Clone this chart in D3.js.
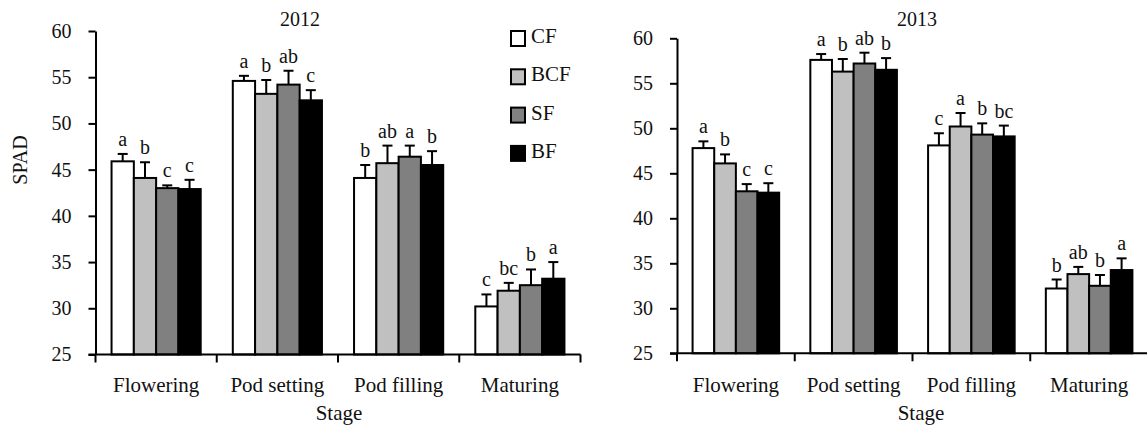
<!DOCTYPE html>
<html>
<head>
<meta charset="utf-8">
<script src="https://cdn.jsdelivr.net/npm/d3@7"></script>
<style>
  html, body { margin: 0; padding: 0; background: #fff; }
  svg { display: block; }
  svg text { font-family: "Liberation Serif", "Times New Roman", serif !important; }
</style>
</head>
<body>
<svg id="chart" width="1147" height="428"></svg>
<script>
// ---- data ----
const stages = ["Flowering", "Pod setting", "Pod filling", "Maturing"];
const treatments = ["CF", "BCF", "SF", "BF"];
const treatmentColors = ["#ffffff", "#c0c0c0", "#808080", "#000000"];
const yTicks = [25, 30, 35, 40, 45, 50, 55, 60];

const mean2012 = [
  [45.9, 44.1, 43.0, 42.9],
  [54.6, 53.2, 54.2, 52.5],
  [44.1, 45.7, 46.4, 45.5],
  [30.2, 31.9, 32.5, 33.2]
];
const err2012 = [
  [0.8, 1.7, 0.3, 1.0],
  [0.55, 1.5, 1.5, 1.1],
  [1.4, 1.9, 1.2, 1.5],
  [1.3, 0.85, 1.7, 1.8]
];
const sig2012 = [
  ["a", "b", "c", "c"],
  ["a", "b", "ab", "c"],
  ["b", "ab", "a", "b"],
  ["c", "bc", "b", "a"]
];

const mean2013 = [
  [47.8, 46.1, 43.0, 42.85],
  [57.6, 56.3, 57.2, 56.5],
  [48.1, 50.2, 49.3, 49.1],
  [32.2, 33.8, 32.5, 34.25]
];
const err2013 = [
  [0.75, 1.0, 0.8, 1.05],
  [0.65, 1.4, 1.2, 1.3],
  [1.35, 1.5, 1.25, 1.2],
  [1.0, 0.8, 1.2, 1.3]
];
const sig2013 = [
  ["a", "b", "c", "c"],
  ["a", "b", "ab", "b"],
  ["c", "a", "b", "bc"],
  ["b", "ab", "b", "a"]
];

// ---- drawing ----
const FONT = "'Liberation Serif', 'Times New Roman', serif";
const svg = d3.select("#chart");

function drawPanel(opts) {
  const { x0, x1, yTop, yBot, means, errs, sigs, title, titleX, stageX, yLabel } = opts;
  const g = svg.append("g").style("font-family", FONT);

  const x = d3.scaleBand().domain(stages).range([x0, x1]).paddingInner(0).paddingOuter(0);
  const xi = d3.scaleBand().domain(treatments).range([0, x.bandwidth()]).paddingInner(0).paddingOuter(0.72);
  const y = d3.scaleLinear().domain([25, 60]).range([yBot, yTop]);

  // bars
  stages.forEach((s, si) => {
    treatments.forEach((t, ti) => {
      const m = means[si][ti], e = errs[si][ti];
      const bx = x(s) + xi(t);
      const bw = xi.bandwidth();
      const cx = bx + bw / 2;
      g.append("line")
        .attr("x1", cx).attr("x2", cx)
        .attr("y1", y(m)).attr("y2", y(m + e))
        .attr("stroke", "#000").attr("stroke-width", 2);
      g.append("line")
        .attr("x1", cx - 5).attr("x2", cx + 5)
        .attr("y1", y(m + e)).attr("y2", y(m + e))
        .attr("stroke", "#000").attr("stroke-width", 2);
      g.append("rect")
        .attr("x", bx).attr("y", y(m))
        .attr("width", bw).attr("height", y(25) - y(m))
        .attr("fill", treatmentColors[ti])
        .attr("stroke", "#000").attr("stroke-width", 2);
      g.append("text")
        .attr("x", cx).attr("y", y(m + e) - 8)
        .attr("text-anchor", "middle")
        .style("font-family", FONT)
        .style("font-size", "20px")
        .attr("fill", "#111")
        .text(sigs[si][ti]);
    });
  });

  // y axis
  const yAxis = d3.axisLeft(y).tickValues(yTicks).tickSize(7).tickSizeOuter(0).tickPadding(17);
  const ya = g.append("g").attr("transform", `translate(${x0},0)`).call(yAxis)
    .attr("font-family", null).attr("font-size", null);
  ya.select(".domain").attr("stroke", "#000").attr("stroke-width", 2);
  ya.selectAll(".tick line").attr("stroke", "#000").attr("stroke-width", 2);
  ya.selectAll(".tick text")
    .style("font-family", FONT).style("font-size", "20px").attr("fill", "#111");

  // x axis
  g.append("line")
    .attr("x1", x0 - 7).attr("x2", x1)
    .attr("y1", yBot).attr("y2", yBot)
    .attr("stroke", "#000").attr("stroke-width", 2);
  const bounds = stages.map(s => x(s)).concat([x1]);
  g.selectAll(".xtick").data(bounds).enter().append("line")
    .attr("x1", d => d).attr("x2", d => d)
    .attr("y1", yBot).attr("y2", yBot + 8)
    .attr("stroke", "#000").attr("stroke-width", 2);
  g.selectAll(".xlab").data(stages).enter().append("text")
    .attr("x", d => x(d) + x.bandwidth() / 2)
    .attr("y", 391.5)
    .attr("text-anchor", "middle")
    .style("font-family", FONT).style("font-size", "21px")
    .attr("fill", "#111")
    .text(d => d);

  g.append("text")
    .attr("x", stageX).attr("y", 420)
    .attr("text-anchor", "middle")
    .style("font-family", FONT).style("font-size", "21px")
    .attr("fill", "#111")
    .text("Stage");

  g.append("text")
    .attr("x", titleX).attr("y", 26)
    .attr("text-anchor", "middle")
    .style("font-family", FONT).style("font-size", "20px")
    .attr("fill", "#111")
    .text(title);

  if (yLabel) {
    g.append("text")
      .attr("transform", "translate(27,160) rotate(-90)")
      .attr("text-anchor", "middle")
      .style("font-family", FONT).style("font-size", "20px")
      .attr("fill", "#111")
      .text(yLabel);
  }
}

drawPanel({
  x0: 95.5, x1: 580.5, yTop: 31, yBot: 354.5,
  means: mean2012, errs: err2012, sigs: sig2012,
  title: "2012", titleX: 300, stageX: 339, yLabel: "SPAD"
});
drawPanel({
  x0: 677, x1: 1148, yTop: 38.3, yBot: 353.3,
  means: mean2013, errs: err2013, sigs: sig2013,
  title: "2013", titleX: 917, stageX: 921, yLabel: null
});

// legend
const legend = svg.append("g");
treatments.forEach((t, i) => {
  const cy = 38.5 + i * 38.3;
  legend.append("rect")
    .attr("x", 511).attr("y", cy - 7.5)
    .attr("width", 14).attr("height", 15)
    .attr("fill", treatmentColors[i])
    .attr("stroke", "#000").attr("stroke-width", 2);
  legend.append("text")
    .attr("x", 531).attr("y", cy + 4.5)
    .style("font-family", FONT).style("font-size", "21px")
    .attr("fill", "#111")
    .text(t);
});
</script>
</body>
</html>
